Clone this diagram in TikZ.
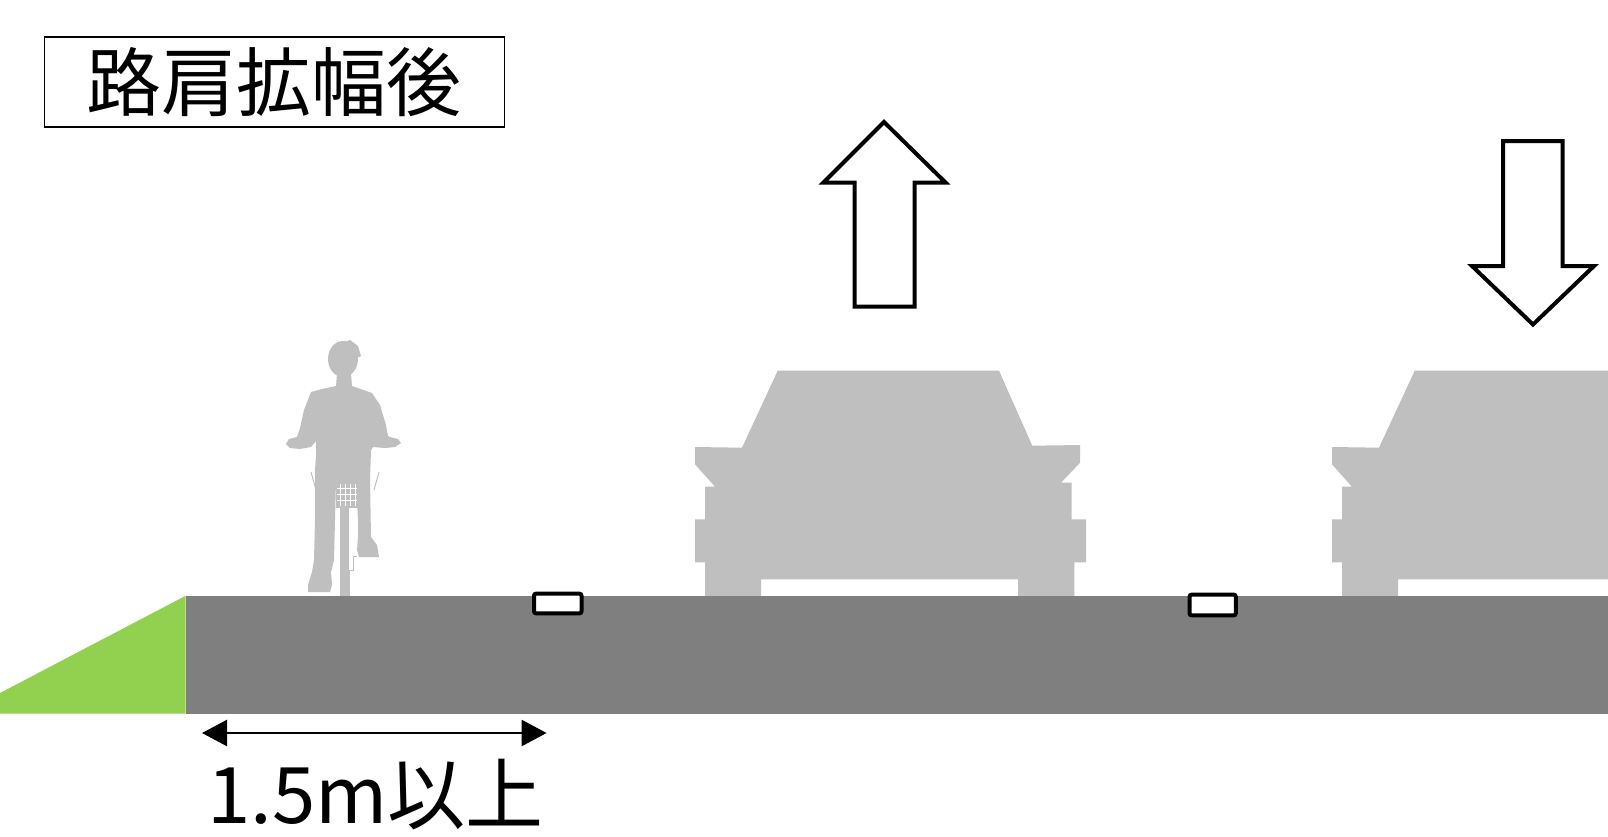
\documentclass[tikz,border=0pt]{standalone}
\usepackage{fontspec}
\newfontfamily\jpfont{Noto Sans CJK JP}
\usetikzlibrary{arrows.meta}
\definecolor{roadgray}{HTML}{7F7F7F}
\definecolor{grass}{HTML}{92D050}
\definecolor{silhouette}{HTML}{BFBFBF}

\begin{document}
\begin{tikzpicture}[x=1pt,y=-1pt,
  blockarrow/.style={draw=black, line width=4pt, fill=white, line join=miter},
  lanemark/.style={draw=black, line width=4pt, fill=white, rounded corners=2pt},
  vehicle/.style={fill=silhouette},
  bigtext/.style={font=\jpfont\fontsize{#1}{#1}\selectfont, inner sep=0pt},
  dimline/.style={line width=2.5pt, {Triangle[length=25pt,width=26pt]}-{Triangle[length=25pt,width=26pt]}}]

% canvas
\clip (0,0) rectangle (1608,836);
\fill[white] (0,0) rectangle (1608,836);

% title box
\node[bigtext=75, draw=black, line width=1.3pt, minimum width=460pt, minimum height=90pt]
  (title) at (274.3,82) {路肩拡幅後};

% block arrows showing the direction of each lane
\draw[blockarrow] (884,122) -- (945.5,182.5) -- (914.5,182.5) -- (914.5,306.6)
  -- (854.5,306.6) -- (854.5,182.5) -- (823.5,182.5) -- cycle;
\draw[blockarrow] (1533,324.5) -- (1594,266) -- (1562.6,266) -- (1562.6,141)
  -- (1503,141) -- (1503,266) -- (1472,266) -- cycle;

% cars (front view)
\foreach \dx in {0,637}{
  \begin{scope}[xshift=\dx pt]
    \fill[vehicle] (777.7,370.7) -- (999,370.7) -- (1032.3,445.7) -- (1080,445)
      -- (1080,462.7) -- (1061,482.7) -- (1071.7,482.7) -- (1071.7,519.3)
      -- (1086,519.3) -- (1086,562.3) -- (1074.3,562.3) -- (1074.3,598)
      -- (1018,598) -- (1018,579.3) -- (761,579.3) -- (761,598) -- (705,598)
      -- (705,562.3) -- (695,562.3) -- (695,519.3) -- (705,519.3) -- (705,486.7)
      -- (715,486.7) -- (695,464.3) -- (695,447) -- (742,447.7) -- cycle;
  \end{scope}
}

% cyclist
\fill[vehicle] (343,359) ellipse [x radius=15, y radius=18];
\fill[vehicle] (339,344) -- (350,340) -- (358,346) -- (361,356) -- (357,358) -- cycle;
\fill[vehicle] (337,374) -- (336,386) -- (322,389) -- (311,392) -- (304,410)
  -- (300,428) -- (297,437) -- (289,439) -- (286,444) -- (290,448)
  -- (300,449) -- (311,447) -- (316,441) -- (316,455) -- (315,470) -- (315,520)
  -- (314,560) -- (312,572) -- (308,585) -- (308,592) -- (330,592) -- (332,585)
  -- (331,572) -- (334,560) -- (336,480) -- (356,480) -- (358,520) -- (358,537)
  -- (357,550) -- (359,557) -- (379,557) -- (377,545) -- (371,537) -- (370,480)
  -- (371,450) -- (373,447) -- (385,448) -- (395,447) -- (401,443) -- (398,439)
  -- (390,437) -- (388,436) -- (386,425) -- (380,405) -- (372,393)
  -- (352,386) -- (351,374) -- cycle;
% bicycle: front wheel and basket
\fill[vehicle] (339.5,480) rectangle (348.5,597);
\fill[vehicle] (336,478) rectangle (358,508);
\foreach \gx in {340,345,350,355}
  \draw[white, line width=0.8pt] (\gx,484) -- (\gx,506);
\foreach \gy in {488,494,500}
  \draw[white, line width=0.8pt] (337,\gy) -- (357,\gy);
\draw[silhouette, line width=1pt] (311,472) -- (316,490);
\draw[silhouette, line width=1pt] (379,472) -- (374,490);
\draw[silhouette, line width=1pt] (349,597) -- (349,570) -- (353,570) -- (353,556) -- (357,556);

% road, grass verge and lane markings
\fill[grass] (0,693) -- (185.6,595.8) -- (185.6,713.7) -- (0,713.7) -- cycle;
\fill[roadgray] (185.6,595.8) rectangle (1608,713.7);
\draw[lanemark] (534,593.7) rectangle (581.5,613.3);
\draw[lanemark] (1189.5,594.7) rectangle (1235.8,615.3);

% width of the widened shoulder
\coordinate (dimL) at (202,733);
\coordinate (dimR) at (546.6,733);
\draw[dimline] (dimL) -- (dimR);
\node[bigtext=78] (dimlabel) at (375.5,794.5) {1.5m以上};
\end{tikzpicture}
\end{document}
